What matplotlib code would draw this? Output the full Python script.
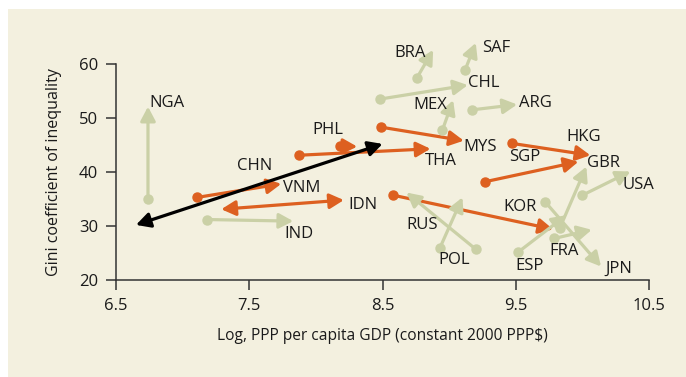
import matplotlib
matplotlib.use("Agg")
import matplotlib.pyplot as plt
from matplotlib.patches import Rectangle

plt.rcParams['font.family'] = ['Open Sans', 'DejaVu Sans']

# Change in inequality vs. income, start period (circle) to end period (arrow head)
countries = ["NGA", "CHN", "IND", "VNM", "IDN", "PHL", "THA", "MYS", "BRA", "SAF",
             "CHL", "MEX", "ARG", "HKG", "SGP", "GBR", "ESP", "USA", "JPN", "FRA",
             "KOR", "RUS", "POL"]
gdp_start = [6.74, 6.65, 7.18, 7.11, 7.29, 8.18, 7.87, 8.49, 8.76, 9.12,
             8.48, 8.95, 9.17, 9.47, 9.27, 9.83, 9.52, 10.00, 9.72, 9.79,
             8.58, 9.20, 8.93]
gini_start = [35.0, 30.2, 31.2, 35.3, 33.1, 44.8, 43.1, 48.3, 57.5, 58.9,
              53.5, 47.8, 51.5, 45.3, 38.2, 29.6, 25.2, 35.7, 34.5, 27.7,
              35.7, 25.7, 25.9]
gdp_end = [6.74, 8.50, 7.83, 7.74, 8.21, 8.31, 8.86, 9.11, 8.88, 9.20,
           9.14, 9.03, 9.51, 10.06, 9.97, 10.03, 9.88, 10.36, 10.14, 10.07,
           9.78, 8.68, 9.10]
gini_end = [52.1, 45.2, 30.9, 37.8, 34.8, 44.7, 44.3, 45.8, 62.6, 63.9,
            56.1, 53.3, 52.5, 43.1, 41.9, 41.0, 32.0, 40.1, 22.5, 29.3,
            29.4, 36.2, 35.3]
group = ["other", "china", "other", "east_asia", "east_asia", "east_asia", "east_asia",
         "east_asia", "other", "other", "other", "other", "other", "east_asia",
         "east_asia", "other", "other", "other", "other", "other", "east_asia",
         "other", "other"]
two_way = {"CHN", "IDN"}

x_ticks = [6.5, 7.5, 8.5, 9.5, 10.5]
y_ticks = [20, 30, 40, 50, 60]

# where each country code is written
label_pos = {
    "NGA": (6.88, 52.8), "CHN": (7.54, 41.1), "VNM": (7.89, 37.1), "IDN": (8.35, 33.8),
    "IND": (7.87, 28.6), "PHL": (8.09, 47.8), "THA": (8.94, 42.1), "MYS": (9.23, 44.7),
    "BRA": (8.71, 62.1), "SAF": (9.35, 62.9), "CHL": (9.26, 56.5), "MEX": (8.86, 52.4),
    "ARG": (9.65, 52.8), "HKG": (10.01, 46.5), "SGP": (9.57, 42.7), "GBR": (10.16, 41.7),
    "USA": (10.42, 37.6), "KOR": (9.53, 33.6), "RUS": (8.80, 30.2), "POL": (9.04, 23.7),
    "ESP": (9.60, 22.5), "FRA": (9.86, 25.4), "JPN": (10.27, 22.0),
}

colors = {"other": "#cad0a6", "east_asia": "#dd6020", "china": "#000000"}
zorders = {"other": 3, "east_asia": 2, "china": 4}
bg = "#f3f0df"
ink = "#1a1a1a"
fs = 12

fig = plt.figure(figsize=(6.86, 3.77), dpi=100)
fig.patch.set_facecolor("white")
fig.patches.append(Rectangle((8 / 686, 0), 1, 1 - 9 / 377, transform=fig.transFigure,
                             facecolor=bg, edgecolor="none", zorder=-10))

ax = fig.add_axes([116 / 686, 1 - 280 / 377, 533 / 686, 216 / 377])
ax.set_facecolor("none")
ax.set_xlim(6.5, 10.5)
ax.set_ylim(20, 60)

for c, x0, y0, x1, y1, g in zip(countries, gdp_start, gini_start, gdp_end, gini_end, group):
    col = colors[g]
    style = "<|-|>" if c in two_way else "-|>"
    ax.annotate("", xy=(x1, y1), xytext=(x0, y0), annotation_clip=False,
                arrowprops=dict(arrowstyle=style + ",head_length=0.85,head_width=0.45",
                                mutation_scale=10, lw=2.3, color=col,
                                shrinkA=0, shrinkB=0),
                zorder=zorders[g])
    if c not in two_way:
        ax.plot(x0, y0, "o", ms=6.5, color=col, zorder=zorders[g] + 0.1, clip_on=False)
    lx, ly = label_pos[c]
    ax.text(lx, ly, c, ha="center", va="center", fontsize=fs, color=ink, zorder=6)

for s in ["top", "right"]:
    ax.spines[s].set_visible(False)
for s in ["left", "bottom"]:
    ax.spines[s].set_color("#333333")
    ax.spines[s].set_linewidth(1.1)

ax.set_xticks(x_ticks)
ax.set_xticklabels([f"{t:g}" for t in x_ticks])
ax.set_yticks(y_ticks)
ax.tick_params(axis="both", direction="out", length=7, width=1.1, color="#333333",
               labelsize=fs, labelcolor=ink, pad=6)

ax.set_xlabel("Log, PPP per capita GDP (constant 2000 PPP$)", fontsize=11.2,
              color=ink, labelpad=10)
ax.set_ylabel("Gini coefficient of inequality", fontsize=11.5, color=ink, labelpad=12)

fig.savefig("out.png", dpi=100, facecolor=fig.get_facecolor())
